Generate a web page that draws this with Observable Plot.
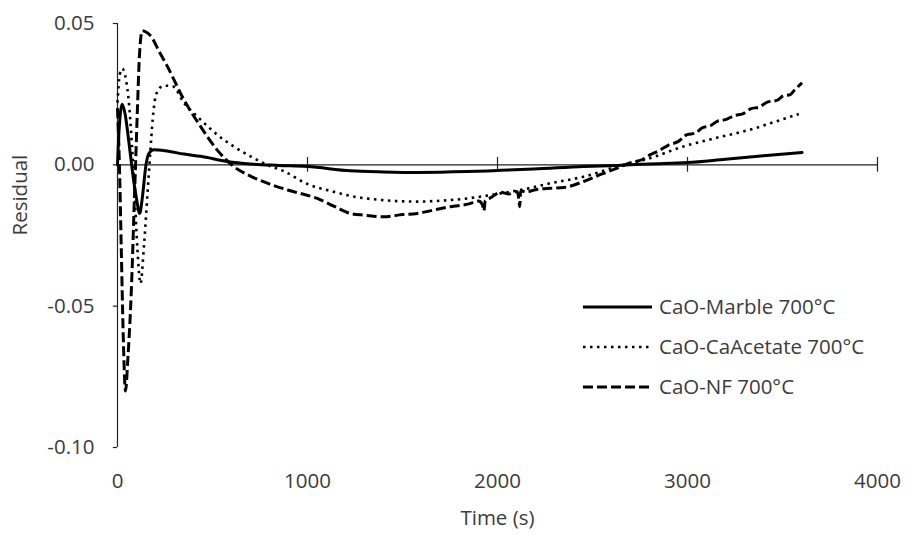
<!DOCTYPE html>
<html>
<head>
<meta charset="utf-8">
<script src="https://cdn.jsdelivr.net/npm/d3@7"></script>
<script src="https://cdn.jsdelivr.net/npm/@observablehq/plot@0.6"></script>
<style>
  body { margin: 0; background: #fff; }
  #wrap { position: relative; width: 906px; height: 535px; font-family: "Open Sans", sans-serif; }
  #legend { position: absolute; left: 580px; top: 290px; }
</style>
</head>
<body>
<div id="wrap"><div id="chart"></div><svg id="legend" width="326" height="115"></svg></div>
<script>
// ---- data ----
const xTicks = [0, 1000, 2000, 3000, 4000];
const yTicks = [-0.10, -0.05, 0.00, 0.05];
const seriesNames = ["CaO-Marble 700°C", "CaO-CaAcetate 700°C", "CaO-NF 700°C"];

const marbleTime = [0, 8, 25, 40, 60, 80, 100, 117, 130, 150, 165, 191, 250, 350, 437, 577, 700, 850, 1000, 1226, 1400, 1577, 1840, 2000, 2190, 2453, 2630, 2800, 3000, 3200, 3400, 3603];
const marbleResidual = [0, 0.012, 0.0214, 0.018, 0.008, -0.003, -0.012, -0.0172, -0.012, 0.0, 0.004, 0.0053, 0.005, 0.0038, 0.003, 0.0012, 0.0003, -0.0002, -0.0006, -0.0021, -0.0025, -0.0027, -0.0024, -0.0020, -0.0015, -0.0006, -0.0002, 0.0003, 0.0008, 0.0020, 0.0032, 0.0044];

const acetateTime = [0, 12, 25, 45, 60, 75, 90, 105, 121, 140, 160, 172, 185, 200, 220, 244, 290, 349, 437, 524, 612, 700, 788, 874, 1000, 1137, 1226, 1400, 1577, 1700, 1840, 2016, 2150, 2279, 2453, 2630, 2805, 2979, 3150, 3332, 3450, 3586];
const acetateResidual = [0.022, 0.032, 0.034, 0.030, 0.022, 0.008, -0.010, -0.030, -0.042, -0.028, -0.008, 0.004, 0.016, 0.024, 0.027, 0.028, 0.0278, 0.022, 0.016, 0.0107, 0.0065, 0.003, 0.0, -0.0022, -0.0068, -0.0095, -0.011, -0.0125, -0.013, -0.0127, -0.0119, -0.0101, -0.0085, -0.0065, -0.0042, -0.0006, 0.0024, 0.0065, 0.0095, 0.0125, 0.0150, 0.018];

const nfTime = [0, 10, 20, 30, 42, 55, 68, 78, 86, 95, 105, 115, 130, 150, 174, 220, 261, 349, 437, 524, 612, 700, 788, 900, 1051, 1150, 1226, 1300, 1402, 1500, 1577, 1650, 1753, 1850, 1900, 1920, 1928, 1936, 1960, 2016, 2060, 2103, 2112, 2117, 2122, 2150, 2200, 2279, 2350, 2453, 2550, 2630, 2700, 2760, 2805, 2850, 2900, 2950, 2998, 3040, 3080, 3120, 3156, 3200, 3250, 3290, 3332, 3380, 3420, 3470, 3507, 3540, 3560, 3603];
const nfResidual = [0.02, 0.0, -0.03, -0.06, -0.080, -0.068, -0.052, -0.035, -0.018, 0.0, 0.020, 0.038, 0.0474, 0.047, 0.0457, 0.040, 0.035, 0.0231, 0.0136, 0.0053, -0.0006, -0.004, -0.0065, -0.009, -0.0119, -0.015, -0.0172, -0.0178, -0.0184, -0.0176, -0.0172, -0.0162, -0.0148, -0.0138, -0.0128, -0.0140, -0.0163, -0.0126, -0.0118, -0.0097, -0.0103, -0.0094, -0.0120, -0.0148, -0.0092, -0.0096, -0.0088, -0.0083, -0.0080, -0.0059, -0.0032, -0.0012, 0.0008, 0.0018, 0.0036, 0.0050, 0.0070, 0.0082, 0.0107, 0.0112, 0.0132, 0.0138, 0.0154, 0.0160, 0.0175, 0.0180, 0.0198, 0.0205, 0.0222, 0.0228, 0.0245, 0.0248, 0.0262, 0.0290];

// ---- build table ----
const rows = [];
marbleTime.forEach((t, i) => rows.push({series: seriesNames[0], t, r: marbleResidual[i]}));
acetateTime.forEach((t, i) => rows.push({series: seriesNames[1], t, r: acetateResidual[i]}));
nfTime.forEach((t, i) => rows.push({series: seriesNames[2], t, r: nfResidual[i]}));

const styles = {
  [seriesNames[0]]: {strokeWidth: 3, dash: null, cap: "round"},
  [seriesNames[1]]: {strokeWidth: 2.6, dash: "2.5,4.5", cap: "butt"},
  [seriesNames[2]]: {strokeWidth: 3, dash: "10,4", cap: "butt"}
};

const txt = "#3c3c3c";
const fs = 20.5;
const font = "Open Sans, sans-serif";

const lineMarks = seriesNames.map(name => Plot.line(rows.filter(d => d.series === name), {
  x: "t", y: "r", stroke: "black", strokeWidth: styles[name].strokeWidth,
  strokeDasharray: styles[name].dash, strokeLinecap: styles[name].cap, strokeLinejoin: "round",
  curve: "monotone-x"
}));

const chart = Plot.plot({
  width: 906, height: 535,
  marginLeft: 117, marginRight: 29, marginTop: 23, marginBottom: 88,
  style: {fontFamily: font, background: "white"},
  x: {domain: [0, 4000], axis: null},
  y: {domain: [-0.10, 0.05], axis: null},
  marks: [
    // y axis line and ticks
    Plot.ruleX([0], {stroke: "#222", strokeWidth: 1.2}),
    Plot.ruleY(yTicks, {x1: -22, x2: 0, stroke: "#222", strokeWidth: 1.2}),
    // zero line with crossing ticks
    Plot.ruleY([0], {stroke: "#222", strokeWidth: 1.2}),
    Plot.ruleX(xTicks.slice(1), {y1: -0.0026, y2: 0.0026, stroke: "#222", strokeWidth: 1.2}),
    // tick labels
    Plot.text(yTicks, {y: d => d, text: d => d.toFixed(2), frameAnchor: "left", dx: -23, textAnchor: "end", fontSize: fs, fill: txt}),
    Plot.text(xTicks, {x: d => d, text: d => String(d), frameAnchor: "bottom", dy: 40, fontSize: fs, fill: txt}),
    Plot.text(["Residual"], {frameAnchor: "left", dx: -97, rotate: -90, fontSize: fs, fill: txt}),
    Plot.text(["Time (s)"], {frameAnchor: "bottom", dy: 77, fontSize: fs, fill: txt}),
    ...lineMarks
  ]
});
document.getElementById("chart").appendChild(chart);

// ---- legend ----
const leg = d3.select("#legend");
seriesNames.forEach((name, i) => {
  const y = 17 + i * 40;
  const s = styles[name];
  leg.append("line").attr("x1", 3).attr("x2", 72).attr("y1", y).attr("y2", y)
    .attr("stroke", "black").attr("stroke-width", s.strokeWidth)
    .attr("stroke-dasharray", s.dash).attr("stroke-linecap", "butt");
  leg.append("text").attr("x", 79).attr("y", y).attr("dy", "0.35em")
    .attr("font-size", fs).attr("fill", txt).attr("font-family", font).text(name);
});
</script>
</body>
</html>
